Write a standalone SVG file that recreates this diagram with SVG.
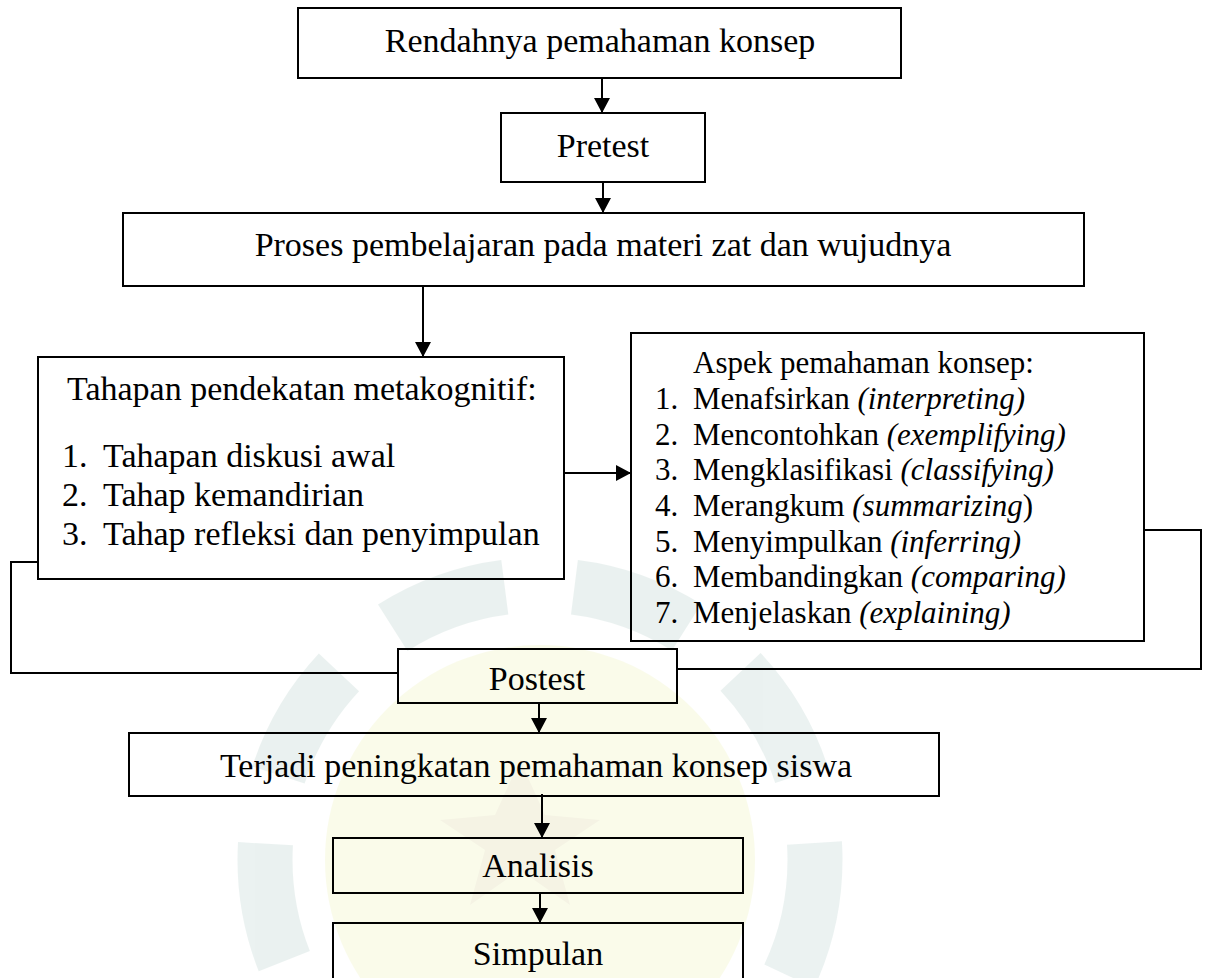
<svg xmlns="http://www.w3.org/2000/svg" width="1211" height="978" viewBox="0 0 1211 978">
  <style>
    .box { fill: none; stroke: #000; stroke-width: 2; }
    .t { font-family: "Liberation Serif", "Times New Roman", serif; font-size: 34px; fill: #000; }
    .s { font-family: "Liberation Serif", "Times New Roman", serif; font-size: 31px; fill: #000; }
    .c { text-anchor: middle; }
    .i { font-style: italic; }
    .con { fill: none; stroke: #000; stroke-width: 2; }
    .arr { marker-end: url(#ah); }
  </style>
  <defs>
    <marker id="ah" viewBox="0 0 15 16" markerWidth="15" markerHeight="16" refX="15" refY="8" orient="auto" markerUnits="userSpaceOnUse">
      <path d="M0,0 L15,8 L0,16 z" fill="#000"/>
    </marker>
  </defs>
  <rect x="0" y="0" width="1211" height="978" fill="#fff"/>

  <g id="watermark" opacity="0.35">
    <circle cx="540" cy="860" r="215" fill="#f2f6c6"/>
    <circle cx="540" cy="860" r="275" fill="none" stroke="#c6dad6" stroke-width="55" stroke-dasharray="120 70"/>
    <polygon points="520,760 545,815 600,820 555,850 570,905 520,870 470,905 485,850 440,820 495,815" fill="#e4dfb4"/>
  </g>

  <g id="connectors">
    <line class="con arr" x1="602" y1="78" x2="602" y2="113"/>
    <line class="con arr" x1="603" y1="182" x2="603" y2="213"/>
    <line class="con arr" x1="423" y1="286" x2="423" y2="357"/>
    <line class="con arr" x1="564" y1="473" x2="631" y2="473"/>
    <polyline class="con" points="38,562 11,562 11,673 398,673"/>
    <polyline class="con" points="1144,530 1201,530 1201,669 677,669"/>
    <line class="con arr" x1="539" y1="703" x2="539" y2="733"/>
    <line class="con arr" x1="542" y1="794" x2="542" y2="838"/>
    <line class="con arr" x1="540" y1="893" x2="540" y2="923"/>
  </g>

  <g id="n1">
    <rect class="box" x="298" y="8" width="603" height="70"/>
    <text class="t c" x="600" y="52">Rendahnya pemahaman konsep</text>
  </g>
  <g id="n2">
    <rect class="box" x="501" y="113" width="204" height="69"/>
    <text class="t c" x="603" y="157">Pretest</text>
  </g>
  <g id="n3">
    <rect class="box" x="123" y="213" width="961" height="73"/>
    <text class="t c" x="603" y="256">Proses pembelajaran pada materi zat dan wujudnya</text>
  </g>
  <g id="n4">
    <rect class="box" x="38" y="357" width="526" height="222"/>
    <text class="t" x="67" y="400">Tahapan pendekatan metakognitif:</text>
    <text class="t" x="62" y="467">1.</text><text class="t" x="103" y="467">Tahapan diskusi awal</text>
    <text class="t" x="62" y="506">2.</text><text class="t" x="103" y="506">Tahap kemandirian</text>
    <text class="t" x="62" y="545">3.</text><text class="t" x="103" y="545">Tahap refleksi dan penyimpulan</text>
  </g>
  <g id="n5">
    <rect class="box" x="631" y="333" width="513" height="308"/>
    <text class="s" x="693" y="373">Aspek pemahaman konsep:</text>
    <text class="s" x="655" y="409">1.</text><text class="s" x="693" y="409">Menafsirkan <tspan class="i">(interpreting)</tspan></text>
    <text class="s" x="655" y="445">2.</text><text class="s" x="693" y="445">Mencontohkan <tspan class="i">(exemplifying)</tspan></text>
    <text class="s" x="655" y="480">3.</text><text class="s" x="693" y="480">Mengklasifikasi <tspan class="i">(classifying)</tspan></text>
    <text class="s" x="655" y="516">4.</text><text class="s" x="693" y="516">Merangkum <tspan class="i">(summarizing</tspan>)</text>
    <text class="s" x="655" y="552">5.</text><text class="s" x="693" y="552">Menyimpulkan <tspan class="i">(inferring)</tspan></text>
    <text class="s" x="655" y="587">6.</text><text class="s" x="693" y="587">Membandingkan <tspan class="i">(comparing)</tspan></text>
    <text class="s" x="655" y="623">7.</text><text class="s" x="693" y="623">Menjelaskan <tspan class="i">(explaining)</tspan></text>
  </g>
  <g id="n6">
    <rect class="box" x="398" y="649" width="279" height="54"/>
    <text class="t c" x="537" y="690">Postest</text>
  </g>
  <g id="n7">
    <rect class="box" x="129" y="733" width="810" height="63"/>
    <text class="t c" x="536" y="777">Terjadi peningkatan pemahaman konsep siswa</text>
  </g>
  <g id="n8">
    <rect class="box" x="333" y="838" width="410" height="55"/>
    <text class="t c" x="538" y="877">Analisis</text>
  </g>
  <g id="n9">
    <rect class="box" x="333" y="923" width="410" height="70"/>
    <text class="t c" x="538" y="965">Simpulan</text>
  </g>
</svg>
